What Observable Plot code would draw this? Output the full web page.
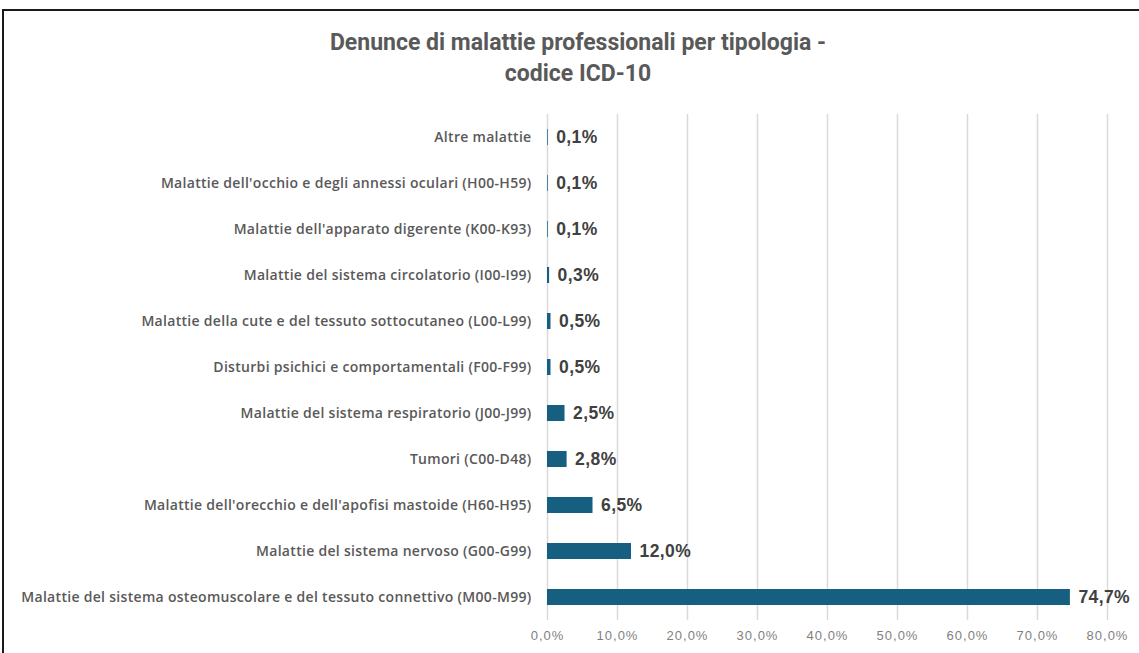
<!DOCTYPE html>
<html>
<head>
<meta charset="utf-8">
<script src="https://cdn.jsdelivr.net/npm/d3@7"></script>
<script src="https://cdn.jsdelivr.net/npm/@observablehq/plot@0.6"></script>
<style>
  html, body { margin: 0; padding: 0; background: #fff; overflow: hidden; }
  #frame { position: absolute; left: 2px; top: 9px; width: 1150px; height: 700px;
           border-left: 2px solid #1a1a1a; border-top: 2px solid #1a1a1a; box-sizing: border-box; }
  #title { position: absolute; left: 0; top: 27px; width: 1156px; text-align: center;
           font-family: "Roboto", "Liberation Sans", sans-serif;
           font-weight: bold; font-size: 23px; line-height: 31px; color: #595959; }
  #chart { position: absolute; left: 0; top: 110px; }
  #chart g[aria-label="text"] text { letter-spacing: 0.4px; }
  #chart g[aria-label="x-axis tick label"] text { letter-spacing: 1px; }
  #chart g[aria-label="y-axis tick label"] text { letter-spacing: 0.3px; }
</style>
</head>
<body>
<div id="frame"></div>
<div id="title">Denunce di malattie professionali per tipologia -<br>codice ICD-10</div>
<div id="chart"></div>
<script>
const categories = [
  "Altre malattie",
  "Malattie dell'occhio e degli annessi oculari (H00-H59)",
  "Malattie dell'apparato digerente (K00-K93)",
  "Malattie del sistema circolatorio (I00-I99)",
  "Malattie della cute e del tessuto sottocutaneo (L00-L99)",
  "Disturbi psichici e comportamentali (F00-F99)",
  "Malattie del sistema respiratorio (J00-J99)",
  "Tumori (C00-D48)",
  "Malattie dell'orecchio e dell'apofisi mastoide (H60-H95)",
  "Malattie del sistema nervoso (G00-G99)",
  "Malattie del sistema osteomuscolare e del tessuto connettivo (M00-M99)"
];
const values = [0.1, 0.1, 0.1, 0.3, 0.5, 0.5, 2.5, 2.8, 6.5, 12.0, 74.7];
const xTicks = [0, 10, 20, 30, 40, 50, 60, 70, 80];

const data = categories.map((c, i) => ({category: c, value: values[i]}));
const pct = v => v.toFixed(1).replace(".", ",") + "%";

const chart = Plot.plot({
  width: 1139,
  height: 543,
  marginLeft: 547,
  marginRight: 32,
  marginTop: 4,
  marginBottom: 33,
  style: {fontFamily: "'Liberation Sans', sans-serif", background: "transparent"},
  x: {domain: [0, 80], label: null},
  y: {domain: categories, paddingInner: 0.65, paddingOuter: 0.325, label: null},
  marks: [
    Plot.gridX(xTicks, {stroke: "#d9d9d9", strokeOpacity: 1, strokeWidth: 1.5}),
    Plot.barX(data, {x: "value", y: "category", fill: "#175f80"}),
    Plot.text(data, {x: "value", y: "category", text: d => pct(d.value), textAnchor: "start", dx: 8,
      fontWeight: "bold", fontSize: 17.5, fill: "#404040"}),
    Plot.axisX(xTicks, {tickSize: 0, tickPadding: 10, fontSize: 13, color: "#7f7f7f",
      tickFormat: pct, fontFamily: "'Liberation Sans', sans-serif", label: null}),
    Plot.axisY({tickSize: 0, tickPadding: 16, fontSize: 14, color: "#595959", fontWeight: 600,
      fontFamily: "'Open Sans', 'Liberation Sans', sans-serif", label: null})
  ]
});
document.getElementById("chart").appendChild(chart);
</script>
</body>
</html>
